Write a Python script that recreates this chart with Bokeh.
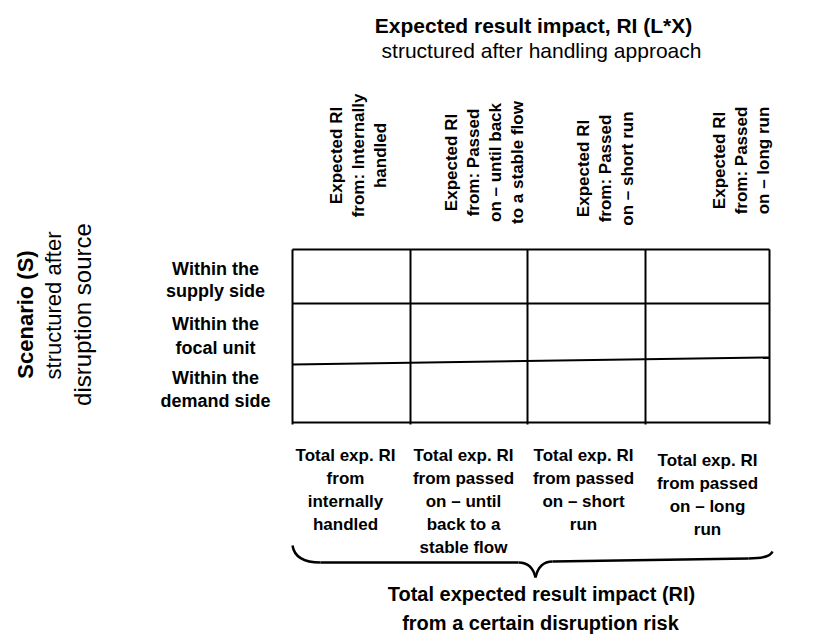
import math
from bokeh.plotting import figure
from bokeh.models import Range1d
from bokeh.core.properties import value
from bokeh.embed import file_html
from bokeh.resources import INLINE

# ---- content ----
title_lines = ["Expected result impact, RI (L*X)", "structured after handling approach"]
column_headers = [
    ["Expected RI", "from: Internally", "handled"],
    ["Expected RI", "from: Passed", "on \u2013 until back", "to a stable flow"],
    ["Expected RI", "from: Passed", "on \u2013 short run"],
    ["Expected RI", "from: Passed", "on \u2013 long run"],
]
row_labels = [["Within the", "supply side"], ["Within the", "focal unit"], ["Within the", "demand side"]]
total_labels = [
    ["Total exp. RI", "from", "internally", "handled"],
    ["Total exp. RI", "from passed", "on \u2013 until", "back to a", "stable flow"],
    ["Total exp. RI", "from passed", "on \u2013 short", "run"],
    ["Total exp. RI", "from passed", "on \u2013 long", "run"],
]
scenario_lines = ["Scenario (S)", "structured after", "disruption source"]
bottom_title = ["Total expected result impact (RI)", "from a certain disruption risk"]

# ---- layout (picture pixel coordinates) ----
col_edges = [292, 410, 527, 645, 769]
row_edges_left = [249, 303, 364, 422]
row_edges_right = [249, 303, 357, 422]
header_group_x = [358, 484, 605, 741]
header_center_y = [155, 162, 168, 160]
header_step = 21.7
total_x = [345, 463, 583, 707]
total_top = [455, 455, 455, 460]
total_step = 23
row_label_x = 215
row_label_y = [(268, 290), (323, 347), (377, 400)]
FONT = value("Liberation Sans")

W, H = 833, 639
p = figure(width=W, height=H, output_backend="svg", toolbar_location=None,
           x_range=Range1d(0, W), y_range=Range1d(H, 0),
           min_border=0, outline_line_color=None)
p.axis.visible = False
p.grid.visible = False
p.background_fill_color = "white"


def txt(x, y, s, size, bold=True, angle=0.0, align="center"):
    p.text(x=[x], y=[y], text=[s], angle=angle, text_font=FONT,
           text_font_size=value(f"{size}px"),
           text_font_style="bold" if bold else "normal",
           text_align=align, text_baseline="middle", text_color="black")


# top title
txt(533, 25, title_lines[0], 21, True)
txt(541, 50, title_lines[1], 21, False)

# column headers (rotated)
for i, lines in enumerate(column_headers):
    n = len(lines)
    x0 = header_group_x[i] - (n - 1) * header_step / 2
    for j, s in enumerate(lines):
        txt(x0 + j * header_step, header_center_y[i], s, 17, True, angle=math.pi / 2)

# scenario label (rotated)
txt(25, 314, scenario_lines[0], 22, True, angle=math.pi / 2)
txt(53, 305, scenario_lines[1], 22, False, angle=math.pi / 2)
txt(82, 314, scenario_lines[2], 24, False, angle=math.pi / 2)

# row labels
for (a, b), (ya, yb) in zip(row_labels, row_label_y):
    txt(row_label_x, ya, a, 18, True)
    txt(row_label_x, yb, b, 18, True)

# grid
for x in col_edges:
    p.line([x, x], [row_edges_left[0], row_edges_left[-1] + 2], line_color="black", line_width=2)
for yl, yr in zip(row_edges_left, row_edges_right):
    p.line([col_edges[0], col_edges[-1]], [yl, yr], line_color="black", line_width=2)

# totals
for i, lines in enumerate(total_labels):
    for j, s in enumerate(lines):
        txt(total_x[i], total_top[i] + j * total_step, s, 17, True)

# brace
L, R = col_edges[0], col_edges[-1] + 3
tip_x = 535
yb, tip_y = 562, 577
p.bezier(x0=[L, tip_x - 17, tip_x, R - 24],
         y0=[545, yb, tip_y, yb - 4],
         x1=[L + 28, tip_x, tip_x + 17, R],
         y1=[yb, tip_y, yb - 1, 551],
         cx0=[L + 2, tip_x - 7, tip_x + 2, R - 10],
         cy0=[558, yb, 568, yb - 4],
         cx1=[L + 13, tip_x - 2, tip_x + 7, R - 2],
         cy1=[yb, 568, yb - 1, 556],
         line_color="black", line_width=2.5)
p.line([L + 28, tip_x - 17], [yb, yb], line_color="black", line_width=2.5)
p.line([tip_x + 17, R - 24], [yb - 1, yb - 4], line_color="black", line_width=2.5)

# bottom title
txt(541, 593, bottom_title[0], 20, True)
txt(540, 622, bottom_title[1], 20, True)

open("out.html", "w").write(file_html(p, INLINE))
